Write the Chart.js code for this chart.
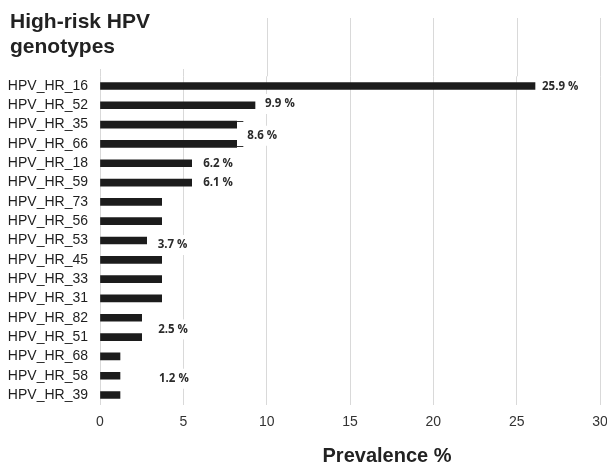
<!DOCTYPE html>
<html>
<head>
<meta charset="utf-8">
<script src="https://cdn.jsdelivr.net/npm/chart.js@4/dist/chart.umd.min.js"></script>
<style>
  html, body { margin: 0; padding: 0; background: #ffffff; }
  #c { display: block; }
</style>
</head>
<body>
<canvas id="c" width="607" height="467"></canvas>
<script>
// ---- data ----
const categories = ['HPV_HR_16','HPV_HR_52','HPV_HR_35','HPV_HR_66','HPV_HR_18','HPV_HR_59','HPV_HR_73','HPV_HR_56','HPV_HR_53','HPV_HR_45','HPV_HR_33','HPV_HR_31','HPV_HR_82','HPV_HR_51','HPV_HR_68','HPV_HR_58','HPV_HR_39'];
const prevalence = [26.1, 9.3, 8.2, 8.2, 5.5, 5.5, 3.7, 3.7, 2.8, 3.7, 3.7, 3.7, 2.5, 2.5, 1.2, 1.2, 1.2];
const xTickValues = [0, 5, 10, 15, 20, 25, 30];
const labelValues = [25.9, 9.9, 8.6, 6.2, 6.1, 3.7, 2.5, 1.2];
const labelRows = [[0], [1], [2, 3], [4], [5], [8], [12, 13], [15]];
const titleLines = ['High-risk HPV', 'genotypes'];
const xAxisTitle = 'Prevalence %';

// ---- label layout (pixel offsets, style only) ----
const labelDx = [7, 10, 4, 11.5, 11.5, 11, 16.5, 39];
const labelDy = [0.5, -1.3, 1.5, 0, 0, 4.5, 2, 3];

function rowY(yScale, rows) {
  let s = 0;
  rows.forEach(r => s += yScale.getPixelForValue(r));
  return s / rows.length;
}
function anchorX(xScale, i) {
  const rows = labelRows[i];
  let m = Math.max(...rows.map(r => prevalence[r]));
  if (rows.length > 1) m = Math.max(m, labelValues[i]);
  return xScale.getPixelForValue(m);
}

const LABEL_FONT = 'bold 11.5px "Open Sans"';

const decor = {
  id: 'decor',
  beforeDatasetsDraw(chart) {
    const ctx = chart.ctx, xs = chart.scales.x, ys = chart.scales.y, ca = chart.chartArea;
    ctx.save();
    ctx.strokeStyle = '#d9d9d9';
    ctx.lineWidth = 1;
    xTickValues.forEach(v => {
      const x = Math.round(xs.getPixelForValue(v)) + 0.5;
      ctx.beginPath();
      ctx.moveTo(x, 18);
      ctx.lineTo(x, ca.top);
      ctx.stroke();
    });
    ctx.font = LABEL_FONT;
    labelValues.forEach((v, i) => {
      const t = v.toFixed(1) + ' %';
      const w = ctx.measureText(t).width;
      const x = anchorX(xs, i) + labelDx[i];
      const y = rowY(ys, labelRows[i]) + labelDy[i];
      ctx.fillStyle = '#ffffff';
      ctx.fillRect(x - 3, y - 10, w + 6, 20);
    });
    ctx.restore();
  },
  afterDatasetsDraw(chart) {
    const ctx = chart.ctx, xs = chart.scales.x, ys = chart.scales.y;
    ctx.save();
    ctx.strokeStyle = '#333333';
    ctx.lineWidth = 1;
    labelRows.forEach((rows, i) => {
      if (rows.length < 2) return;
      const end = xs.getPixelForValue(labelValues[i]);
      const first = rows[0], last = rows[rows.length - 1];
      const x1 = xs.getPixelForValue(prevalence[first]);
      const x2 = xs.getPixelForValue(prevalence[last]);
      if (end <= x1 + 0.5 && end <= x2 + 0.5) return;
      const yt = Math.round(ys.getPixelForValue(first) - 3.5) + 0.5;
      const yb = Math.round(ys.getPixelForValue(last) + 3.5) - 0.5;
      ctx.beginPath();
      ctx.moveTo(x1, yt); ctx.lineTo(end, yt);
      ctx.moveTo(x2, yb); ctx.lineTo(end, yb);
      ctx.stroke();
    });
    ctx.font = LABEL_FONT;
    ctx.fillStyle = '#2b2b2b';
    ctx.textAlign = 'left';
    ctx.textBaseline = 'middle';
    labelValues.forEach((v, i) => {
      const t = v.toFixed(1) + ' %';
      const x = anchorX(xs, i) + labelDx[i];
      const y = rowY(ys, labelRows[i]) + labelDy[i];
      ctx.fillText(t, x, y);
    });
    ctx.restore();
  },
  afterDraw(chart) {
    const ctx = chart.ctx, xs = chart.scales.x;
    ctx.save();
    ctx.fillStyle = '#ffffff';
    ctx.fillRect(0, 0, 200, 69);
    ctx.fillStyle = '#222222';
    ctx.font = 'bold 21px "Liberation Sans", Arial, sans-serif';
    ctx.textAlign = 'left';
    ctx.textBaseline = 'alphabetic';
    ctx.fillText(titleLines[0], 10, 28);
    ctx.fillText(titleLines[1], 10, 53);
    ctx.font = 'bold 20px "Liberation Sans", Arial, sans-serif';
    ctx.textAlign = 'center';
    const cx = (xs.left + xs.right) / 2 + 37;
    ctx.fillText(xAxisTitle, cx, 462);
    ctx.restore();
  }
};

new Chart(document.getElementById('c'), {
  type: 'bar',
  data: {
    labels: categories,
    datasets: [{
      data: prevalence,
      backgroundColor: '#1c1c1c',
      borderWidth: 0,
      barThickness: 7
    }]
  },
  options: {
    indexAxis: 'y',
    responsive: false,
    animation: false,
    devicePixelRatio: 1,
    layout: { padding: { top: 76.3, right: 7, bottom: 0, left: 0 } },
    plugins: { legend: { display: false }, tooltip: { enabled: false } },
    scales: {
      x: {
        min: 0, max: 30,
        afterBuildTicks(scale) { scale.ticks = xTickValues.map(v => ({ value: v })); },
        ticks: {
          font: { family: '"Liberation Sans", Arial, sans-serif', size: 14 },
          color: '#333333',
          padding: 9,
          maxRotation: 0
        },
        grid: { color: '#d9d9d9', lineWidth: 1, drawTicks: false },
        border: { display: false },
        afterFit(scale) { scale.height = 62.3; scale.paddingRight = 0; scale.paddingLeft = 0; }
      },
      y: {
        grid: { display: false, drawTicks: false },
        border: { display: false },
        ticks: {
          font: { family: '"Liberation Sans", Arial, sans-serif', size: 14 },
          color: '#1e1e1e',
          padding: 12,
          autoSkip: false
        },
        afterFit(scale) { scale.width = 100; scale.paddingTop = 0; scale.paddingBottom = 0; }
      }
    }
  },
  plugins: [decor]
});
</script>
</body>
</html>
